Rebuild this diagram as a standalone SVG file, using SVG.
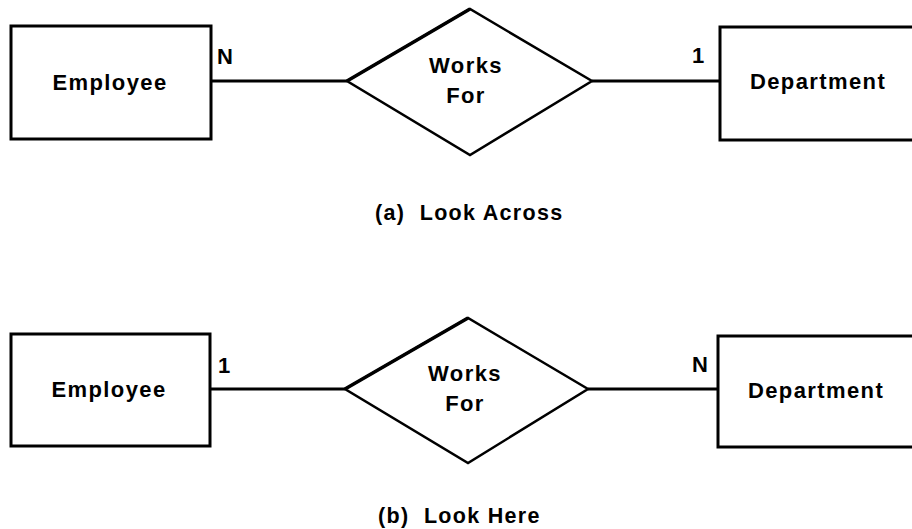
<svg xmlns="http://www.w3.org/2000/svg" width="912" height="529" viewBox="0 0 912 529">
<style>
.ent{fill:#fff;stroke:#000;stroke-width:3}
.rel{fill:#fff;stroke:#000;stroke-width:2.5;stroke-linejoin:miter}
.con{stroke:#000;stroke-width:3;fill:none}
text{font-family:"Liberation Sans",Arial,Helvetica,sans-serif;font-weight:bold;fill:#000}
.lbl{font-size:22px;letter-spacing:1.4px;text-anchor:middle}
.card{font-size:22px}
.cap{font-size:21.5px;letter-spacing:1.3px}
</style>
<rect width="912" height="529" fill="#fff"/>
<g id="connectors">
<line class="con" x1="211" y1="81" x2="347" y2="81"/>
<line class="con" x1="592" y1="81" x2="720" y2="81"/>
<line class="con" x1="210" y1="389" x2="345" y2="389"/>
<line class="con" x1="588" y1="389" x2="718" y2="389"/>
<text class="card" x="217" y="64">N</text>
<text class="card" x="692" y="63">1</text>
<text class="card" x="218" y="373">1</text>
<text class="card" x="692" y="372">N</text>
</g>
<g id="employee-a">
<rect class="ent" x="11" y="26" width="200" height="113"/>
<text class="lbl" x="110" y="90">Employee</text>
</g>
<g id="worksfor-a">
<polygon class="rel" points="347,81 470,9 592,81 470,155"/>
<line x1="347" y1="81" x2="470" y2="9" stroke="#000" stroke-width="3.5"/>
<text class="lbl" x="466" y="73">Works</text>
<text class="lbl" x="466" y="103">For</text>
</g>
<g id="department-a">
<rect class="ent" x="720" y="27" width="220" height="113"/>
<text class="lbl" x="818" y="89">Department</text>
</g>
<g id="employee-b">
<rect class="ent" x="11" y="334" width="199" height="112"/>
<text class="lbl" x="109" y="397">Employee</text>
</g>
<g id="worksfor-b">
<polygon class="rel" points="345,389 468,318 588,389 468,463"/>
<line x1="345" y1="389" x2="468" y2="318" stroke="#000" stroke-width="3.5"/>
<text class="lbl" x="465" y="381">Works</text>
<text class="lbl" x="465" y="411">For</text>
</g>
<g id="department-b">
<rect class="ent" x="718" y="336" width="220" height="111"/>
<text class="lbl" x="816" y="398">Department</text>
</g>
<g id="captions">
<text class="cap" x="375" y="220">(a)&#160; Look Across</text>
<text class="cap" x="378" y="523">(b)&#160; Look Here</text>
</g>
</svg>
